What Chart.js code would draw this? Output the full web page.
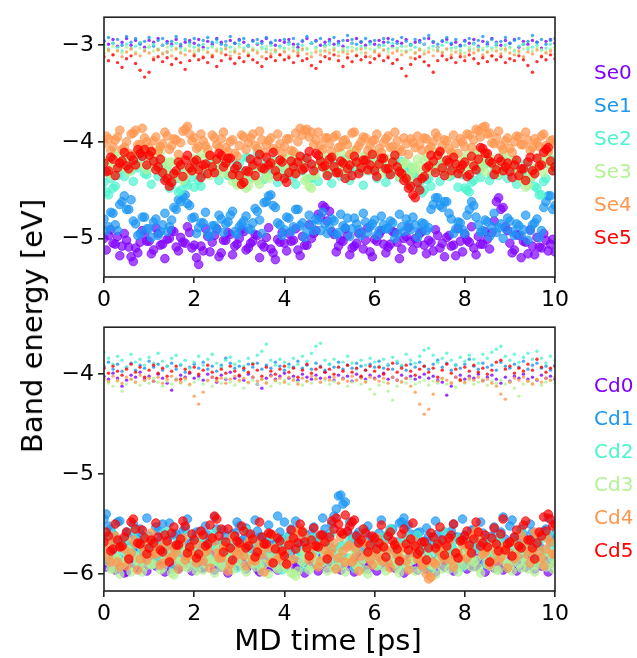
<!DOCTYPE html>
<html>
<head>
<meta charset="utf-8">
<script src="https://cdn.jsdelivr.net/npm/chart.js@4.4.1/dist/chart.umd.min.js"></script>
<style>
  body { margin: 0; background: #fff; width: 637px; height: 658px; position: relative; overflow: hidden; font-family: "DejaVu Sans", sans-serif; }
  canvas { position: absolute; left: 0; }
  #topChart { top: 0; }
  #bottomChart { top: 310px; }
  .legend { position: absolute; left: 594px; font-size: 20px; line-height: 20px; white-space: nowrap; transform: translateY(-50%); }
  #ylab { position: absolute; left: 32px; top: 326px; font-size: 29px; white-space: nowrap; transform: translate(-50%, -50%) rotate(-90deg); }
  #xlab { position: absolute; left: 328px; top: 640px; font-size: 29px; white-space: nowrap; transform: translate(-50%, -50%); }
</style>
</head>
<body>
<canvas id="topChart" width="637" height="310"></canvas>
<canvas id="bottomChart" width="637" height="348"></canvas>
<div id="ylab">Band energy [eV]</div>
<div id="xlab">MD time [ps]</div>
<script>
// time axis, ps
const TIME = [
  0, 0.1, 0.2, 0.3, 0.4, 0.5, 0.6, 0.7, 0.8, 0.9,
  1, 1.1, 1.2, 1.3, 1.4, 1.5, 1.6, 1.7, 1.8, 1.9,
  2, 2.1, 2.2, 2.3, 2.4, 2.5, 2.6, 2.7, 2.8, 2.9,
  3, 3.1, 3.2, 3.3, 3.4, 3.5, 3.6, 3.7, 3.8, 3.9,
  4, 4.1, 4.2, 4.3, 4.4, 4.5, 4.6, 4.7, 4.8, 4.9,
  5, 5.1, 5.2, 5.3, 5.4, 5.5, 5.6, 5.7, 5.8, 5.9,
  6, 6.1, 6.2, 6.3, 6.4, 6.5, 6.6, 6.7, 6.8, 6.9,
  7, 7.1, 7.2, 7.3, 7.4, 7.5, 7.6, 7.7, 7.8, 7.9,
  8, 8.1, 8.2, 8.3, 8.4, 8.5, 8.6, 8.7, 8.8, 8.9,
  9, 9.1, 9.2, 9.3, 9.4, 9.5, 9.6, 9.7, 9.8, 9.9,
  10
];
// in-between frames (lower bands only)
const TIME_MID = [
  0.05, 0.15, 0.25, 0.35, 0.45, 0.55, 0.65, 0.75, 0.85, 0.95,
  1.05, 1.15, 1.25, 1.35, 1.45, 1.55, 1.65, 1.75, 1.85, 1.95,
  2.05, 2.15, 2.25, 2.35, 2.45, 2.55, 2.65, 2.75, 2.85, 2.95,
  3.05, 3.15, 3.25, 3.35, 3.45, 3.55, 3.65, 3.75, 3.85, 3.95,
  4.05, 4.15, 4.25, 4.35, 4.45, 4.55, 4.65, 4.75, 4.85, 4.95,
  5.05, 5.15, 5.25, 5.35, 5.45, 5.55, 5.65, 5.75, 5.85, 5.95,
  6.05, 6.15, 6.25, 6.35, 6.45, 6.55, 6.65, 6.75, 6.85, 6.95,
  7.05, 7.15, 7.25, 7.35, 7.45, 7.55, 7.65, 7.75, 7.85, 7.95,
  8.05, 8.15, 8.25, 8.35, 8.45, 8.55, 8.65, 8.75, 8.85, 8.95,
  9.05, 9.15, 9.25, 9.35, 9.45, 9.55, 9.65, 9.75, 9.85, 9.95
];

const SE_NAMES = ['Se0', 'Se1', 'Se2', 'Se3', 'Se4', 'Se5'];
const CD_NAMES = ['Cd0', 'Cd1', 'Cd2', 'Cd3', 'Cd4', 'Cd5'];
const COLORS = ['#8000ff', '#1a96f3', '#4df3ce', '#b3f396', '#ff964f', '#ff0000'];

const X_TICKS = [0, 2, 4, 6, 8, 10];
const Y_TICKS_TOP = [-5, -4, -3];
const Y_TICKS_BOTTOM = [-6, -5, -4];
const Y_RANGE_TOP = [-5.40, -2.71];
const Y_RANGE_BOTTOM = [-6.17, -3.53];

// Se, lower band (large markers), frames at TIME
const SE0 = [
  -5.00,-4.97,-5.05,-4.98,-5.08,-5.02,-5.19,-5.10,-5.04,-4.96,
  -5.03,-5.12,-4.95,-5.06,-5.01,-4.92,-5.09,-4.99,-5.05,-4.94,
  -5.07,-5.27,-5.13,-4.98,-5.04,-4.90,-5.15,-5.02,-4.96,-5.08,
  -5.00,-4.93,-5.10,-5.03,-4.97,-5.06,-4.99,-5.11,-5.22,-5.04,
  -5.05,-4.95,-5.02,-5.12,-4.98,-5.07,-5.00,-4.92,-4.78,-4.68,
  -4.72,-4.96,-5.08,-5.03,-4.97,-5.10,-5.05,-4.94,-5.02,-5.14,
  -5.01,-4.96,-5.06,-5.09,-4.93,-5.04,-5.11,-4.98,-5.03,-5.00,
  -4.95,-5.07,-5.02,-5.13,-4.97,-5.05,-4.99,-5.08,-5.18,-5.03,
  -4.96,-5.04,-5.10,-4.98,-5.06,-5.01,-4.94,-4.62,-4.70,-4.88,
  -5.05,-5.12,-4.97,-5.03,-5.16,-5.08,-4.99,-5.10,-5.02,-5.06,
  -5.14
];
const SE1 = [
  -4.80,-4.88,-4.74,-4.92,-4.62,-4.70,-4.60,-4.85,-4.95,-4.78,
  -4.90,-4.83,-4.97,-4.86,-4.93,-4.81,-4.70,-4.62,-4.55,-4.66,
  -4.78,-4.89,-4.84,-4.95,-4.87,-4.91,-4.80,-4.85,-4.76,-4.93,
  -4.88,-4.82,-4.90,-4.84,-4.72,-4.95,-4.62,-4.55,-4.68,-4.86,
  -4.91,-4.79,-4.88,-4.70,-4.84,-4.93,-4.86,-4.80,-4.92,-4.85,
  -4.89,-4.82,-4.94,-4.87,-4.79,-4.90,-4.85,-4.97,-4.83,-4.88,
  -4.81,-4.92,-4.86,-4.90,-4.84,-4.95,-4.88,-4.80,-4.91,-4.86,
  -4.93,-4.85,-4.89,-4.65,-4.58,-4.68,-4.62,-4.80,-4.90,-4.84,
  -4.95,-4.70,-4.66,-4.86,-4.92,-4.83,-4.88,-4.94,-4.85,-4.90,
  -4.82,-4.97,-4.87,-4.91,-5.02,-4.86,-4.80,-4.92,-4.62,-4.56,
  -4.66
];
const SE2 = [
  -4.42,-4.55,-4.48,-4.35,-4.28,-4.22,-4.30,-4.25,-4.19,-4.33,
  -4.27,-4.21,-4.36,-4.24,-4.30,-4.45,-4.38,-4.50,-4.42,-4.29,
  -4.47,-4.40,-4.33,-4.26,-4.18,-4.31,-4.24,-4.20,-4.35,-4.28,
  -4.22,-4.30,-4.17,-4.26,-4.12,-4.29,-4.21,-4.34,-4.25,-4.19,
  -4.32,-4.27,-4.36,-4.24,-4.30,-4.22,-4.38,-4.28,-4.20,-4.26,
  -4.33,-4.25,-4.29,-4.21,-4.35,-4.27,-4.18,-4.31,-4.24,-4.30,
  -4.28,-4.22,-4.26,-4.34,-4.30,-4.25,-4.20,-4.32,-4.27,-4.36,
  -4.42,-4.50,-4.38,-4.29,-4.24,-4.31,-4.28,-4.35,-4.26,-4.33,
  -4.48,-4.52,-4.40,-4.30,-4.25,-4.22,-4.34,-4.28,-4.31,-4.26,
  -4.29,-4.24,-4.36,-4.30,-4.27,-4.33,-4.48,-4.55,-4.38,-4.18,
  -4.25
];
const SE3 = [
  -4.30,-4.20,-4.26,-4.15,-4.22,-4.18,-4.28,-4.12,-4.10,-4.24,
  -4.16,-4.23,-4.08,-4.19,-4.27,-4.21,-4.32,-4.25,-4.35,-4.30,
  -4.22,-4.18,-4.26,-4.14,-4.29,-4.20,-4.33,-4.24,-4.17,-4.38,
  -4.42,-4.35,-4.46,-4.30,-4.40,-4.28,-4.36,-4.22,-4.31,-4.25,
  -4.18,-4.27,-4.21,-4.14,-4.26,-4.38,-4.48,-4.35,-4.24,-4.19,
  -4.22,-4.15,-4.28,-4.20,-4.25,-4.12,-4.19,-4.24,-4.16,-4.21,
  -4.14,-4.23,-4.18,-4.27,-4.20,-4.26,-4.30,-4.22,-4.34,-4.28,
  -4.25,-4.19,-4.31,-4.23,-4.17,-4.26,-4.21,-4.15,-4.28,-4.22,
  -4.18,-4.24,-4.20,-4.13,-4.26,-4.19,-4.23,-4.29,-4.21,-4.17,
  -4.25,-4.20,-4.32,-4.40,-4.45,-4.36,-4.27,-4.22,-4.18,-4.24,
  -4.20
];
const SE4 = [
  -4.02,-3.97,-4.05,-3.95,-4.08,-4.00,-3.92,-3.88,-4.03,-3.96,
  -4.06,-3.99,-4.10,-4.02,-3.94,-4.04,-3.98,-4.01,-3.87,-3.92,
  -3.96,-4.05,-3.99,-4.08,-3.93,-4.03,-3.97,-4.06,-4.00,-4.12,
  -4.04,-3.95,-4.01,-3.92,-4.07,-3.98,-4.03,-3.96,-4.09,-4.02,
  -4.05,-3.97,-4.10,-4.00,-3.93,-3.87,-3.90,-3.98,-4.04,-3.96,
  -4.02,-3.95,-4.06,-3.99,-4.03,-3.91,-4.08,-4.00,-3.96,-4.04,
  -3.98,-4.07,-4.01,-3.94,-4.05,-3.99,-4.10,-4.02,-3.97,-4.06,
  -4.03,-3.96,-4.08,-4.00,-3.95,-4.04,-3.99,-4.11,-4.02,-3.97,
  -4.05,-3.93,-3.98,-3.89,-3.85,-3.92,-4.01,-3.96,-4.04,-3.99,
  -4.07,-4.00,-3.95,-4.03,-3.98,-4.06,-4.01,-3.94,-4.04,-3.99,
  -4.02
];
const SE5 = [
  -4.22,-4.30,-4.18,-4.27,-4.20,-4.25,-4.15,-4.24,-4.12,-4.08,
  -4.14,-4.20,-4.26,-4.32,-4.38,-4.42,-4.30,-4.24,-4.19,-4.27,
  -4.21,-4.29,-4.24,-4.33,-4.26,-4.18,-4.14,-4.22,-4.17,-4.28,
  -4.35,-4.42,-4.31,-4.24,-4.20,-4.27,-4.16,-4.22,-4.30,-4.19,
  -4.38,-4.32,-4.26,-4.21,-4.29,-4.17,-4.23,-4.12,-4.20,-4.25,
  -4.18,-4.26,-4.32,-4.22,-4.28,-4.35,-4.21,-4.27,-4.19,-4.24,
  -4.30,-4.23,-4.17,-4.28,-4.21,-4.26,-4.33,-4.38,-4.46,-4.58,
  -4.50,-4.36,-4.25,-4.20,-4.14,-4.27,-4.19,-4.30,-4.23,-4.28,
  -4.21,-4.34,-4.25,-4.18,-4.07,-4.12,-4.22,-4.29,-4.20,-4.26,
  -4.31,-4.24,-4.35,-4.28,-4.21,-4.30,-4.17,-4.24,-4.08,-4.20,
  -4.26
];

// Se, lower band, frames at TIME_MID
const SE0_MID = [
  -5.12,-4.91,-5.06,-5.18,-4.95,-5.09,-5.24,-5.15,-4.92,-5.03,
  -5.16,-4.89,-5.07,-5.21,-5.00,-4.93,-5.13,-5.04,-4.88,-5.10,
  -5.20,-5.08,-4.90,-5.14,-4.97,-5.19,-5.02,-4.94,-5.17,-5.06,
  -4.91,-5.12,-5.05,-4.96,-5.20,-5.09,-4.89,-5.15,-5.01,-4.94,
  -5.13,-5.03,-4.90,-5.18,-5.07,-4.86,-4.95,-4.75,-4.66,-4.82,
  -4.93,-5.14,-5.02,-4.90,-5.17,-5.08,-4.95,-5.11,-4.89,-5.19,
  -5.03,-4.92,-5.15,-5.06,-4.94,-5.21,-5.00,-4.89,-5.12,-5.05,
  -4.93,-5.16,-5.04,-4.91,-5.10,-5.19,-4.97,-5.07,-4.90,-5.14,
  -5.02,-4.88,-5.17,-5.06,-4.93,-5.11,-4.82,-4.58,-4.68,-4.92,
  -5.15,-4.96,-5.20,-5.04,-4.91,-5.17,-5.09,-4.95,-5.13,-5.01
];
const SE1_MID = [
  -4.92,-4.73,-4.86,-4.65,-4.56,-4.70,-4.82,-4.97,-4.78,-4.90,
  -4.99,-4.80,-4.93,-4.74,-4.88,-4.68,-4.60,-4.57,-4.64,-4.79,
  -4.95,-4.84,-4.73,-4.98,-4.87,-4.76,-4.94,-4.83,-4.72,-4.96,
  -4.85,-4.77,-4.91,-4.69,-4.81,-4.63,-4.56,-4.66,-4.84,-4.97,
  -4.78,-4.93,-4.70,-4.87,-4.99,-4.76,-4.92,-4.81,-4.73,-4.95,
  -4.80,-4.96,-4.75,-4.89,-4.98,-4.79,-4.91,-4.74,-4.94,-4.85,
  -4.97,-4.77,-4.90,-4.82,-5.00,-4.75,-4.93,-4.86,-4.78,-4.99,
  -4.84,-4.92,-4.70,-4.58,-4.66,-4.62,-4.74,-4.95,-4.83,-4.91,
  -4.76,-4.62,-4.78,-4.94,-4.81,-4.98,-4.74,-4.89,-5.00,-4.79,
  -4.93,-4.85,-4.97,-4.76,-4.92,-4.84,-4.99,-4.68,-4.56,-4.70
];
const SE2_MID = [
  -4.52,-4.38,-4.46,-4.24,-4.36,-4.18,-4.41,-4.27,-4.15,-4.34,
  -4.44,-4.20,-4.30,-4.38,-4.48,-4.35,-4.52,-4.28,-4.45,-4.37,
  -4.25,-4.46,-4.33,-4.17,-4.29,-4.40,-4.22,-4.35,-4.19,-4.42,
  -4.31,-4.16,-4.37,-4.24,-4.14,-4.39,-4.28,-4.20,-4.42,-4.26,
  -4.35,-4.21,-4.44,-4.30,-4.17,-4.38,-4.25,-4.41,-4.19,-4.33,
  -4.43,-4.23,-4.36,-4.18,-4.40,-4.29,-4.22,-4.45,-4.27,-4.16,
  -4.38,-4.24,-4.42,-4.31,-4.19,-4.37,-4.26,-4.44,-4.33,-4.48,
  -4.53,-4.39,-4.46,-4.25,-4.41,-4.20,-4.36,-4.29,-4.47,-4.34,
  -4.50,-4.42,-4.28,-4.37,-4.21,-4.40,-4.26,-4.35,-4.19,-4.38,
  -4.27,-4.44,-4.32,-4.22,-4.39,-4.46,-4.55,-4.41,-4.23,-4.30
];
const SE3_MID = [
  -4.20,-4.34,-4.12,-4.27,-4.18,-4.31,-4.14,-4.24,-4.09,-4.29,
  -4.16,-4.26,-4.11,-4.33,-4.21,-4.37,-4.19,-4.40,-4.28,-4.17,
  -4.31,-4.13,-4.26,-4.35,-4.19,-4.28,-4.15,-4.33,-4.41,-4.45,
  -4.36,-4.48,-4.39,-4.27,-4.44,-4.30,-4.38,-4.21,-4.34,-4.18,
  -4.29,-4.14,-4.33,-4.22,-4.40,-4.46,-4.35,-4.24,-4.13,-4.30,
  -4.16,-4.27,-4.11,-4.32,-4.20,-4.09,-4.26,-4.15,-4.30,-4.12,
  -4.24,-4.33,-4.17,-4.28,-4.14,-4.36,-4.22,-4.39,-4.26,-4.18,
  -4.32,-4.15,-4.27,-4.11,-4.29,-4.20,-4.34,-4.13,-4.24,-4.30,
  -4.14,-4.27,-4.10,-4.22,-4.31,-4.16,-4.26,-4.33,-4.12,-4.25,
  -4.19,-4.30,-4.38,-4.47,-4.35,-4.28,-4.16,-4.32,-4.13,-4.27
];
const SE4_MID = [
  -3.94,-4.09,-3.98,-3.88,-4.06,-4.12,-3.91,-4.03,-3.86,-4.00,
  -4.11,-3.95,-4.05,-3.90,-4.08,-3.97,-4.13,-3.89,-3.84,-3.99,
  -4.07,-3.92,-4.04,-4.14,-3.96,-4.06,-3.90,-4.10,-3.98,-4.15,
  -3.93,-4.08,-3.96,-4.04,-3.89,-4.11,-3.99,-4.07,-3.92,-4.12,
  -3.97,-4.09,-3.91,-3.86,-3.88,-3.95,-4.03,-3.90,-4.08,-3.96,
  -4.10,-3.93,-4.05,-3.98,-4.13,-3.90,-4.04,-3.95,-4.09,-3.99,
  -3.92,-4.11,-3.97,-4.06,-3.90,-4.08,-3.96,-4.13,-4.01,-3.94,
  -4.09,-3.97,-4.05,-3.91,-4.10,-3.98,-4.07,-3.93,-4.12,-4.00,
  -3.92,-4.06,-3.87,-3.95,-3.84,-3.91,-4.02,-3.89,-4.08,-3.96,
  -4.11,-3.94,-4.03,-3.90,-4.09,-3.97,-4.05,-3.92,-4.10,-3.98
];
const SE5_MID = [
  -4.31,-4.16,-4.35,-4.22,-4.11,-4.28,-4.19,-4.08,-4.15,-4.24,
  -4.10,-4.29,-4.18,-4.40,-4.46,-4.33,-4.21,-4.36,-4.14,-4.30,
  -4.19,-4.37,-4.23,-4.14,-4.32,-4.12,-4.26,-4.17,-4.34,-4.25,
  -4.44,-4.30,-4.18,-4.35,-4.13,-4.28,-4.24,-4.11,-4.36,-4.21,
  -4.42,-4.20,-4.33,-4.15,-4.27,-4.10,-4.30,-4.14,-4.26,-4.35,
  -4.16,-4.32,-4.20,-4.38,-4.24,-4.15,-4.33,-4.19,-4.29,-4.13,
  -4.36,-4.17,-4.28,-4.34,-4.14,-4.31,-4.40,-4.48,-4.55,-4.42,
  -4.38,-4.27,-4.14,-4.32,-4.10,-4.35,-4.21,-4.16,-4.33,-4.24,
  -4.36,-4.15,-4.29,-4.06,-4.12,-4.20,-4.34,-4.17,-4.30,-4.22,
  -4.37,-4.19,-4.28,-4.40,-4.16,-4.33,-4.25,-4.11,-4.06,-4.30
];

// Se, upper band (small dots), frames at TIME
const SE0_UP = [
  -2.96,-2.99,-2.94,-3.01,-2.97,-2.93,-3.00,-2.95,-2.98,-3.02,
  -2.95,-2.97,-2.93,-3.00,-2.96,-2.99,-2.94,-3.01,-2.97,-2.95,
  -2.98,-2.94,-3.02,-2.96,-2.99,-2.93,-2.97,-3.00,-2.95,-2.98,
  -2.94,-2.97,-3.01,-2.95,-2.99,-2.96,-2.93,-2.98,-3.00,-2.95,
  -2.97,-2.94,-2.99,-3.02,-2.96,-2.93,-2.98,-2.95,-3.00,-2.97,
  -2.94,-2.99,-2.96,-3.01,-2.95,-2.98,-2.93,-2.97,-3.00,-2.96,
  -2.99,-2.95,-2.97,-2.93,-3.01,-2.96,-2.98,-2.94,-3.00,-2.97,
  -2.95,-2.99,-2.93,-2.97,-3.02,-2.96,-2.94,-2.99,-2.97,-3.00,
  -2.95,-2.98,-2.94,-3.01,-2.96,-2.99,-2.93,-2.97,-3.00,-2.95,
  -2.98,-2.94,-3.02,-2.96,-2.99,-2.95,-2.97,-3.03,-2.96,-2.94,
  -2.98
];
const SE1_UP = [
  -2.95,-2.92,-2.98,-2.94,-3.00,-2.91,-2.97,-2.93,-2.99,-2.96,
  -2.92,-3.01,-2.95,-2.93,-2.98,-2.96,-2.91,-2.99,-2.94,-2.97,
  -2.93,-3.00,-2.95,-2.92,-2.97,-2.94,-2.99,-2.96,-2.91,-2.98,
  -2.95,-2.93,-3.00,-2.96,-2.94,-2.98,-2.92,-2.97,-2.95,-3.01,
  -2.94,-2.97,-2.93,-2.99,-2.95,-2.91,-2.98,-2.96,-2.93,-3.00,
  -2.96,-2.92,-2.98,-2.95,-2.90,-2.94,-2.99,-2.96,-2.93,-2.97,
  -2.95,-3.00,-2.93,-2.97,-2.94,-2.98,-2.92,-2.96,-2.99,-2.94,
  -2.97,-2.93,-2.90,-2.96,-2.99,-2.95,-2.92,-2.98,-2.94,-3.01,
  -2.96,-2.93,-2.98,-2.95,-2.91,-2.97,-2.94,-3.00,-2.96,-2.92,
  -2.98,-2.95,-2.93,-2.99,-2.96,-2.90,-2.97,-2.94,-2.99,-2.95,
  -2.93
];
const SE2_UP = [
  -3.00,-3.04,-2.98,-3.02,-3.06,-2.99,-3.03,-3.01,-2.97,-3.05,
  -3.02,-2.99,-3.04,-3.00,-3.07,-3.01,-2.98,-3.03,-3.05,-3.00,
  -3.02,-3.06,-2.99,-3.03,-3.01,-2.97,-3.04,-3.00,-3.02,-3.06,
  -2.99,-3.03,-3.01,-3.05,-2.98,-3.02,-3.04,-3.00,-3.07,-3.01,
  -3.03,-2.99,-3.02,-3.05,-3.00,-3.04,-2.98,-3.02,-3.06,-3.01,
  -2.99,-3.03,-3.00,-3.05,-3.02,-2.98,-3.04,-3.01,-3.03,-2.99,
  -3.05,-3.02,-3.00,-3.04,-2.98,-3.03,-3.01,-3.06,-3.00,-3.02,
  -3.04,-2.99,-3.03,-3.01,-3.05,-3.00,-2.97,-3.03,-3.02,-3.06,
  -3.00,-3.04,-2.99,-3.02,-3.05,-3.01,-3.03,-2.98,-3.04,-3.00,
  -3.02,-3.06,-3.01,-2.99,-3.04,-3.02,-3.00,-3.05,-3.03,-2.99,
  -3.02
];
const SE3_UP = [
  -3.03,-3.06,-3.01,-3.05,-3.08,-3.02,-3.04,-3.07,-3.03,-3.05,
  -3.01,-3.06,-3.04,-3.08,-3.02,-3.05,-3.03,-3.07,-3.04,-3.01,
  -3.06,-3.03,-3.05,-3.08,-3.02,-3.04,-3.06,-3.03,-3.07,-3.04,
  -3.02,-3.05,-3.08,-3.03,-3.06,-3.04,-3.01,-3.05,-3.07,-3.03,
  -3.06,-3.04,-3.02,-3.07,-3.05,-3.03,-3.08,-3.04,-3.06,-3.02,
  -3.05,-3.03,-3.07,-3.04,-3.06,-3.02,-3.05,-3.08,-3.03,-3.04,
  -3.06,-3.02,-3.05,-3.07,-3.03,-3.04,-3.06,-3.01,-3.05,-3.08,
  -3.04,-3.06,-3.03,-3.05,-3.02,-3.07,-3.04,-3.06,-3.03,-3.05,
  -3.08,-3.02,-3.04,-3.06,-3.03,-3.07,-3.05,-3.02,-3.04,-3.06,
  -3.03,-3.05,-3.08,-3.04,-3.02,-3.06,-3.03,-3.05,-3.07,-3.04,
  -3.05
];
const SE4_UP = [
  -3.08,-3.05,-3.10,-3.06,-3.12,-3.07,-3.04,-3.09,-3.11,-3.06,
  -3.08,-3.13,-3.05,-3.09,-3.07,-3.11,-3.04,-3.08,-3.10,-3.06,
  -3.09,-3.05,-3.12,-3.07,-3.10,-3.06,-3.08,-3.04,-3.11,-3.07,
  -3.09,-3.06,-3.10,-3.05,-3.08,-3.12,-3.07,-3.09,-3.05,-3.10,
  -3.07,-3.11,-3.06,-3.08,-3.04,-3.09,-3.12,-3.07,-3.10,-3.06,
  -3.08,-3.05,-3.11,-3.07,-3.09,-3.06,-3.10,-3.04,-3.08,-3.12,
  -3.07,-3.09,-3.05,-3.11,-3.08,-3.06,-3.10,-3.07,-3.13,-3.08,
  -3.05,-3.09,-3.07,-3.11,-3.06,-3.08,-3.04,-3.10,-3.07,-3.09,
  -3.12,-3.06,-3.08,-3.05,-3.10,-3.07,-3.11,-3.06,-3.09,-3.04,
  -3.08,-3.10,-3.06,-3.12,-3.07,-3.09,-3.05,-3.11,-3.08,-3.06,
  -3.09
];
const SE5_UP = [
  -3.12,-3.16,-3.10,-3.18,-3.23,-3.14,-3.11,-3.19,-3.26,-3.33,
  -3.28,-3.15,-3.12,-3.17,-3.13,-3.20,-3.14,-3.18,-3.25,-3.16,
  -3.11,-3.15,-3.13,-3.18,-3.12,-3.22,-3.16,-3.10,-3.14,-3.19,
  -3.13,-3.17,-3.11,-3.15,-3.18,-3.22,-3.14,-3.12,-3.16,-3.10,
  -3.15,-3.13,-3.18,-3.11,-3.16,-3.14,-3.21,-3.24,-3.17,-3.12,
  -3.14,-3.10,-3.16,-3.22,-3.13,-3.17,-3.11,-3.15,-3.12,-3.18,
  -3.14,-3.11,-3.16,-3.13,-3.19,-3.15,-3.24,-3.32,-3.20,-3.14,
  -3.12,-3.17,-3.21,-3.28,-3.16,-3.11,-3.15,-3.13,-3.18,-3.12,
  -3.16,-3.10,-3.14,-3.19,-3.13,-3.17,-3.11,-3.15,-3.12,-3.18,
  -3.14,-3.16,-3.11,-3.15,-3.21,-3.28,-3.17,-3.12,-3.15,-3.10,
  -3.14
];

// Cd, lower band (large markers), frames at TIME
const CD0 = [
  -5.86,-5.90,-5.82,-5.95,-5.88,-5.98,-5.84,-5.91,-5.87,-5.93,
  -5.85,-5.89,-5.80,-5.92,-5.86,-5.95,-5.83,-5.88,-5.90,-5.85,
  -5.91,-5.86,-5.94,-5.82,-5.89,-5.87,-5.93,-5.84,-5.90,-5.86,
  -5.88,-5.83,-5.92,-5.87,-5.95,-5.85,-5.89,-5.93,-5.81,-5.88,
  -5.90,-5.84,-5.87,-5.92,-5.86,-5.89,-5.83,-5.91,-5.88,-5.85,
  -5.87,-5.92,-5.84,-5.89,-5.86,-5.90,-5.82,-5.88,-5.94,-5.86,
  -5.89,-5.85,-5.91,-5.87,-5.93,-5.84,-5.88,-5.86,-5.90,-5.83,
  -5.88,-5.92,-5.85,-5.89,-5.86,-5.91,-5.84,-5.87,-5.90,-5.85,
  -5.89,-5.86,-5.92,-5.84,-5.88,-5.91,-5.87,-5.85,-5.90,-5.93,
  -5.86,-5.89,-5.84,-5.91,-5.87,-5.88,-5.85,-5.92,-5.86,-5.89,
  -5.87
];
const CD1 = [
  -5.45,-5.52,-5.60,-5.48,-5.66,-5.58,-5.72,-5.63,-5.55,-5.70,
  -5.62,-5.68,-5.57,-5.50,-5.65,-5.73,-5.60,-5.67,-5.54,-5.69,
  -5.64,-5.58,-5.71,-5.61,-5.66,-5.55,-5.68,-5.62,-5.74,-5.59,
  -5.52,-5.65,-5.60,-5.70,-5.57,-5.63,-5.68,-5.61,-5.66,-5.58,
  -5.48,-5.62,-5.69,-5.56,-5.64,-5.71,-5.59,-5.66,-5.62,-5.55,
  -5.60,-5.42,-5.22,-5.30,-5.58,-5.65,-5.61,-5.68,-5.57,-5.63,
  -5.70,-5.59,-5.66,-5.62,-5.55,-5.68,-5.48,-5.52,-5.60,-5.64,
  -5.58,-5.67,-5.62,-5.71,-5.60,-5.65,-5.69,-5.57,-5.63,-5.66,
  -5.61,-5.68,-5.56,-5.64,-5.59,-5.67,-5.62,-5.70,-5.58,-5.65,
  -5.52,-5.63,-5.69,-5.60,-5.66,-5.58,-5.72,-5.62,-5.55,-5.64,
  -5.60
];
const CD2 = [
  -5.72,-5.78,-5.60,-5.75,-5.82,-5.70,-5.77,-5.66,-5.80,-5.73,
  -5.68,-5.76,-5.84,-5.71,-5.58,-5.74,-5.79,-5.69,-5.76,-5.82,
  -5.73,-5.67,-5.78,-5.71,-5.85,-5.75,-5.69,-5.80,-5.72,-5.76,
  -5.70,-5.79,-5.74,-5.66,-5.81,-5.73,-5.77,-5.62,-5.75,-5.83,
  -5.71,-5.78,-5.68,-5.76,-5.80,-5.72,-5.65,-5.77,-5.74,-5.82,
  -5.69,-5.75,-5.79,-5.71,-5.84,-5.73,-5.77,-5.66,-5.80,-5.74,
  -5.72,-5.78,-5.68,-5.60,-5.75,-5.81,-5.70,-5.62,-5.76,-5.73,
  -5.79,-5.71,-5.77,-5.84,-5.74,-5.69,-5.78,-5.72,-5.66,-5.80,
  -5.73,-5.76,-5.70,-5.63,-5.78,-5.72,-5.81,-5.75,-5.69,-5.77,
  -5.74,-5.80,-5.71,-5.76,-5.68,-5.79,-5.73,-5.65,-5.77,-5.72,
  -5.70
];
const CD3 = [
  -5.80,-5.88,-5.95,-5.84,-5.91,-5.86,-5.98,-5.82,-5.89,-5.93,
  -5.85,-5.90,-5.78,-5.94,-5.87,-5.99,-5.83,-5.88,-5.92,-5.86,
  -5.90,-5.84,-5.96,-5.81,-5.89,-5.87,-5.93,-5.85,-5.91,-5.79,
  -5.88,-5.94,-5.83,-5.90,-5.86,-5.97,-5.84,-5.89,-5.92,-5.85,
  -5.91,-5.87,-6.00,-5.97,-5.88,-5.84,-5.93,-5.86,-5.90,-5.82,
  -5.89,-5.95,-5.85,-5.91,-5.87,-5.83,-5.92,-5.88,-5.96,-5.84,
  -5.90,-5.86,-5.93,-5.81,-5.89,-5.94,-5.85,-5.91,-5.87,-5.97,
  -5.84,-5.90,-5.86,-5.92,-5.88,-5.95,-5.83,-5.89,-5.93,-5.86,
  -5.91,-5.85,-5.88,-5.94,-5.82,-5.90,-5.87,-5.96,-5.84,-5.89,
  -5.92,-5.86,-5.90,-5.83,-5.95,-5.88,-5.91,-5.85,-5.93,-5.87,
  -5.90
];
const CD4 = [
  -5.75,-5.82,-5.68,-5.88,-5.73,-5.92,-5.79,-5.70,-5.85,-5.77,
  -5.66,-5.80,-5.74,-5.89,-5.72,-5.83,-5.78,-5.68,-5.86,-5.76,
  -5.81,-5.71,-5.87,-5.75,-5.64,-5.79,-5.84,-5.72,-5.90,-5.77,
  -5.73,-5.82,-5.69,-5.86,-5.76,-5.80,-5.71,-5.88,-5.74,-5.83,
  -5.78,-5.70,-5.85,-5.62,-5.57,-5.75,-5.81,-5.72,-5.87,-5.76,
  -5.80,-5.69,-5.84,-5.77,-5.73,-5.88,-5.75,-5.82,-5.70,-5.86,
  -5.78,-5.83,-5.71,-5.89,-5.76,-5.81,-5.74,-5.87,-5.79,-5.72,
  -5.85,-5.90,-6.05,-5.88,-5.77,-5.82,-5.73,-5.86,-5.79,-5.84,
  -5.70,-5.76,-5.61,-5.58,-5.80,-5.74,-5.87,-5.78,-5.83,-5.72,
  -5.79,-5.85,-5.73,-5.66,-5.81,-5.77,-5.60,-5.84,-5.75,-5.68,
  -5.80
];
const CD5 = [
  -5.68,-5.62,-5.75,-5.66,-5.72,-5.58,-5.48,-5.55,-5.70,-5.64,
  -5.74,-5.69,-5.63,-5.78,-5.67,-5.59,-5.71,-5.65,-5.52,-5.73,
  -5.66,-5.80,-5.61,-5.70,-5.64,-5.45,-5.55,-5.68,-5.74,-5.62,
  -5.69,-5.57,-5.72,-5.65,-5.78,-5.63,-5.70,-5.60,-5.75,-5.67,
  -5.82,-5.71,-5.64,-5.69,-5.58,-5.74,-5.66,-5.72,-5.61,-5.68,
  -5.63,-5.55,-5.50,-5.60,-5.57,-5.48,-5.62,-5.66,-5.59,-5.71,
  -5.64,-5.69,-5.73,-5.62,-5.67,-5.75,-5.60,-5.70,-5.65,-5.72,
  -5.77,-5.68,-5.74,-5.63,-5.70,-5.66,-5.72,-5.61,-5.79,-5.67,
  -5.62,-5.71,-5.65,-5.58,-5.69,-5.73,-5.64,-5.70,-5.60,-5.76,
  -5.68,-5.63,-5.72,-5.51,-5.66,-5.74,-5.69,-5.62,-5.57,-5.45,
  -5.50
];

// Cd, lower band, frames at TIME_MID
const CD0_MID = [
  -5.93,-5.80,-5.96,-5.85,-5.99,-5.90,-5.78,-5.94,-5.84,-5.97,
  -5.81,-5.92,-5.86,-5.98,-5.79,-5.91,-5.95,-5.83,-5.88,-5.97,
  -5.82,-5.94,-5.87,-5.80,-5.96,-5.89,-5.84,-5.99,-5.86,-5.92,
  -5.79,-5.95,-5.85,-5.91,-5.98,-5.83,-5.93,-5.81,-5.96,-5.87,
  -5.92,-5.78,-5.95,-5.86,-5.99,-5.84,-5.90,-5.97,-5.82,-5.94,
  -5.80,-5.91,-5.96,-5.85,-5.93,-5.98,-5.83,-5.89,-5.95,-5.81,
  -5.97,-5.86,-5.92,-5.79,-5.94,-5.88,-5.99,-5.84,-5.91,-5.96,
  -5.82,-5.95,-5.87,-5.98,-5.80,-5.93,-5.86,-5.97,-5.83,-5.90,
  -5.95,-5.81,-5.92,-5.88,-5.98,-5.85,-5.94,-5.79,-5.96,-5.89,
  -5.83,-5.97,-5.86,-5.93,-5.80,-5.95,-5.90,-5.84,-5.98,-5.87
];
const CD1_MID = [
  -5.40,-5.55,-5.68,-5.47,-5.73,-5.59,-5.50,-5.78,-5.62,-5.44,
  -5.70,-5.53,-5.66,-5.76,-5.49,-5.61,-5.74,-5.57,-5.45,-5.69,
  -5.58,-5.77,-5.52,-5.64,-5.43,-5.71,-5.56,-5.80,-5.60,-5.48,
  -5.67,-5.54,-5.75,-5.46,-5.63,-5.72,-5.51,-5.68,-5.42,-5.65,
  -5.74,-5.55,-5.47,-5.70,-5.60,-5.79,-5.53,-5.66,-5.44,-5.72,
  -5.50,-5.35,-5.21,-5.28,-5.48,-5.70,-5.58,-5.76,-5.52,-5.65,
  -5.73,-5.46,-5.62,-5.55,-5.77,-5.49,-5.44,-5.51,-5.68,-5.59,
  -5.75,-5.54,-5.66,-5.47,-5.71,-5.58,-5.79,-5.50,-5.63,-5.45,
  -5.69,-5.56,-5.74,-5.48,-5.65,-5.77,-5.53,-5.60,-5.43,-5.70,
  -5.46,-5.67,-5.55,-5.78,-5.50,-5.63,-5.72,-5.57,-5.44,-5.68
];
const CD2_MID = [
  -5.62,-5.85,-5.70,-5.93,-5.66,-5.80,-5.57,-5.88,-5.74,-5.64,
  -5.90,-5.71,-5.83,-5.59,-5.77,-5.95,-5.67,-5.86,-5.61,-5.79,
  -5.92,-5.65,-5.81,-5.73,-5.58,-5.89,-5.69,-5.84,-5.63,-5.94,
  -5.72,-5.56,-5.87,-5.68,-5.91,-5.76,-5.60,-5.82,-5.71,-5.96,
  -5.64,-5.85,-5.58,-5.79,-5.93,-5.67,-5.83,-5.62,-5.88,-5.74,
  -5.59,-5.90,-5.72,-5.85,-5.65,-5.94,-5.70,-5.57,-5.81,-5.76,
  -5.91,-5.63,-5.86,-5.55,-5.78,-5.69,-5.92,-5.66,-5.84,-5.61,
  -5.87,-5.73,-5.95,-5.68,-5.80,-5.58,-5.89,-5.75,-5.64,-5.93,
  -5.70,-5.83,-5.59,-5.77,-5.90,-5.66,-5.86,-5.62,-5.79,-5.94,
  -5.68,-5.82,-5.57,-5.88,-5.72,-5.91,-5.64,-5.80,-5.60,-5.85
];
const CD3_MID = [
  -5.78,-5.95,-5.84,-6.00,-5.89,-5.76,-5.93,-5.86,-5.98,-5.81,
  -5.91,-5.74,-5.96,-5.85,-5.80,-6.01,-5.88,-5.77,-5.94,-5.83,
  -5.97,-5.79,-5.90,-5.86,-5.99,-5.75,-5.92,-5.82,-5.96,-5.87,
  -5.80,-5.98,-5.84,-5.93,-5.77,-5.90,-6.00,-5.83,-5.95,-5.79,
  -5.94,-5.99,-6.02,-5.86,-5.78,-5.96,-5.84,-5.91,-5.76,-5.97,
  -5.82,-5.93,-5.79,-5.98,-5.87,-5.75,-5.95,-5.85,-6.00,-5.81,
  -5.92,-5.78,-5.97,-5.84,-5.90,-5.99,-5.80,-5.94,-5.86,-5.77,
  -5.96,-5.83,-5.91,-6.01,-5.85,-5.79,-5.95,-5.88,-5.98,-5.82,
  -5.76,-5.93,-5.86,-5.99,-5.81,-5.92,-5.78,-5.96,-5.85,-5.90,
  -5.97,-5.80,-5.94,-5.87,-5.77,-5.98,-5.84,-5.91,-5.79,-5.95
];
const CD4_MID = [
  -5.70,-5.88,-5.62,-5.93,-5.75,-5.83,-5.66,-5.96,-5.72,-5.86,
  -5.59,-5.80,-5.91,-5.68,-5.85,-5.74,-5.95,-5.64,-5.82,-5.71,
  -5.89,-5.60,-5.78,-5.94,-5.67,-5.84,-5.73,-5.97,-5.63,-5.81,
  -5.76,-5.92,-5.65,-5.87,-5.70,-5.98,-5.74,-5.61,-5.85,-5.79,
  -5.90,-5.66,-5.58,-5.55,-5.62,-5.86,-5.72,-5.93,-5.69,-5.82,
  -5.75,-5.95,-5.63,-5.88,-5.71,-5.84,-5.97,-5.68,-5.80,-5.91,
  -5.64,-5.87,-5.76,-5.94,-5.69,-5.83,-5.73,-5.96,-5.66,-5.85,
  -5.92,-6.00,-6.03,-5.90,-5.74,-5.86,-5.67,-5.93,-5.79,-5.71,
  -5.84,-5.62,-5.56,-5.65,-5.78,-5.91,-5.70,-5.87,-5.76,-5.94,
  -5.68,-5.82,-5.61,-5.74,-5.89,-5.58,-5.77,-5.92,-5.65,-5.80
];
const CD5_MID = [
  -5.58,-5.77,-5.50,-5.73,-5.63,-5.85,-5.45,-5.69,-5.56,-5.80,
  -5.66,-5.49,-5.76,-5.61,-5.88,-5.53,-5.71,-5.47,-5.79,-5.60,
  -5.84,-5.57,-5.72,-5.51,-5.42,-5.62,-5.78,-5.55,-5.86,-5.67,
  -5.52,-5.74,-5.60,-5.83,-5.48,-5.70,-5.59,-5.89,-5.64,-5.77,
  -5.90,-5.56,-5.75,-5.50,-5.68,-5.82,-5.54,-5.73,-5.61,-5.85,
  -5.47,-5.44,-5.58,-5.41,-5.52,-5.46,-5.69,-5.55,-5.78,-5.62,
  -5.75,-5.51,-5.83,-5.58,-5.71,-5.87,-5.55,-5.76,-5.49,-5.80,
  -5.68,-5.86,-5.59,-5.74,-5.53,-5.81,-5.64,-5.50,-5.84,-5.66,
  -5.57,-5.79,-5.48,-5.72,-5.61,-5.88,-5.54,-5.77,-5.45,-5.70,
  -5.82,-5.56,-5.74,-5.47,-5.66,-5.85,-5.58,-5.43,-5.40,-5.52
];

// Cd, upper band (small dots), frames at TIME
const CD0_UP = [
  -4.02,-4.05,-3.99,-4.04,-4.12,-4.06,-4.01,-4.03,-3.98,-4.05,
  -4.02,-4.07,-4.00,-4.04,-4.09,-4.16,-4.05,-4.01,-4.03,-3.99,
  -4.04,-4.02,-4.06,-4.00,-4.03,-4.08,-4.01,-4.05,-3.98,-4.04,
  -4.02,-4.06,-4.00,-4.03,-4.10,-4.14,-4.04,-4.01,-4.05,-4.02,
  -3.99,-4.04,-4.02,-4.06,-4.00,-4.03,-4.05,-4.01,-4.04,-3.98,
  -4.03,-4.06,-4.01,-4.04,-4.02,-4.07,-4.00,-4.03,-4.05,-4.01,
  -4.04,-4.02,-3.99,-4.05,-4.03,-4.06,-4.01,-4.04,-4.02,-4.05,
  -4.03,-4.00,-4.04,-4.02,-4.06,-4.08,-4.21,-4.12,-4.03,-4.01,
  -4.05,-4.02,-4.04,-4.00,-4.06,-4.03,-4.01,-4.05,-4.09,-4.03,
  -4.07,-4.02,-4.04,-4.00,-4.05,-4.03,-4.06,-4.01,-4.04,-4.02,
  -4.05
];
const CD1_UP = [
  -3.92,-3.88,-3.95,-3.90,-3.97,-3.93,-3.89,-3.96,-3.91,-3.94,
  -3.87,-3.93,-3.90,-3.96,-3.92,-3.89,-3.95,-3.91,-3.98,-3.93,
  -3.90,-3.94,-3.88,-3.95,-3.92,-3.97,-3.91,-3.84,-3.89,-3.94,
  -3.92,-3.96,-3.90,-3.93,-3.89,-3.95,-3.91,-3.94,-3.88,-3.92,
  -3.96,-3.90,-3.93,-3.87,-3.94,-3.91,-3.95,-3.89,-3.92,-3.96,
  -3.90,-3.93,-3.88,-3.95,-3.91,-3.94,-3.89,-3.92,-3.96,-3.90,
  -3.93,-3.87,-3.94,-3.91,-3.95,-3.89,-3.92,-3.96,-3.90,-3.93,
  -3.88,-3.92,-3.95,-3.90,-3.86,-3.93,-3.89,-3.96,-3.91,-3.94,
  -3.90,-3.85,-3.92,-3.95,-3.89,-3.93,-3.91,-3.96,-3.88,-3.92,
  -3.94,-3.90,-3.93,-3.87,-3.95,-3.91,-3.89,-3.94,-3.92,-3.96,
  -3.91
];
const CD2_UP = [
  -3.78,-3.84,-3.90,-3.82,-3.86,-3.93,-3.80,-3.88,-3.85,-3.91,
  -3.83,-3.89,-3.79,-3.87,-3.92,-3.84,-3.81,-3.90,-3.86,-3.94,
  -3.88,-3.82,-3.91,-3.85,-3.80,-3.89,-3.93,-3.86,-3.83,-3.90,
  -3.87,-3.92,-3.84,-3.89,-3.81,-3.77,-3.70,-3.86,-3.91,-3.85,
  -3.88,-3.93,-3.84,-3.90,-3.82,-3.87,-3.79,-3.72,-3.69,-3.86,
  -3.90,-3.85,-3.93,-3.88,-3.82,-3.89,-3.95,-3.86,-3.91,-3.84,
  -3.88,-3.92,-3.85,-3.90,-3.83,-3.87,-3.91,-3.80,-3.86,-3.89,
  -3.82,-3.76,-3.74,-3.81,-3.88,-3.84,-3.79,-3.86,-3.90,-3.83,
  -3.87,-3.81,-3.85,-3.89,-3.80,-3.84,-3.78,-3.75,-3.72,-3.82,
  -3.86,-3.80,-3.88,-3.83,-3.79,-3.85,-3.77,-3.84,-3.89,-3.82,
  -3.86
];
const CD3_UP = [
  -4.06,-4.09,-4.12,-4.07,-4.17,-4.10,-4.05,-4.08,-4.11,-4.06,
  -4.09,-4.04,-4.08,-4.12,-4.07,-4.10,-4.05,-4.09,-4.06,-4.11,
  -4.08,-4.05,-4.10,-4.07,-4.12,-4.06,-4.09,-4.04,-4.08,-4.11,
  -4.07,-4.14,-4.09,-4.06,-4.10,-4.05,-4.08,-4.12,-4.07,-4.09,
  -4.06,-4.10,-4.05,-4.08,-4.11,-4.07,-4.09,-4.04,-4.08,-4.06,
  -4.10,-4.07,-4.09,-4.05,-4.12,-4.08,-4.06,-4.10,-4.07,-4.15,
  -4.20,-4.11,-4.08,-4.17,-4.26,-4.12,-4.07,-4.09,-4.05,-4.10,
  -4.08,-4.06,-4.11,-4.07,-4.09,-4.05,-4.10,-4.08,-4.13,-4.07,
  -4.09,-4.06,-4.10,-4.08,-4.05,-4.11,-4.07,-4.09,-4.06,-4.10,
  -4.08,-4.14,-4.22,-4.10,-4.07,-4.09,-4.05,-4.11,-4.08,-4.06,
  -4.09
];
const CD4_UP = [
  -4.04,-4.07,-4.02,-4.06,-4.09,-4.03,-4.05,-4.08,-4.01,-4.06,
  -4.04,-4.07,-4.03,-4.09,-4.05,-4.02,-4.06,-4.08,-4.04,-4.10,
  -4.22,-4.30,-4.18,-4.06,-4.03,-4.07,-4.04,-4.09,-4.05,-4.02,
  -4.06,-4.04,-4.08,-4.03,-4.07,-4.05,-4.09,-4.02,-4.06,-4.04,
  -4.08,-4.03,-4.06,-4.10,-4.04,-4.07,-4.02,-4.05,-4.08,-4.04,
  -4.06,-4.03,-4.09,-4.05,-4.07,-4.02,-4.06,-4.04,-4.08,-4.03,
  -4.05,-4.07,-4.04,-4.09,-4.03,-4.06,-4.08,-4.04,-4.12,-4.18,
  -4.30,-4.40,-4.35,-4.20,-4.07,-4.04,-4.06,-4.09,-4.03,-4.05,
  -4.08,-4.04,-4.06,-4.03,-4.07,-4.05,-4.09,-4.12,-4.20,-4.25,
  -4.08,-4.04,-4.06,-4.03,-4.07,-4.10,-4.05,-4.08,-4.04,-4.06,
  -4.03
];
const CD5_UP = [
  -3.94,-3.99,-3.92,-3.97,-4.01,-3.95,-3.90,-3.98,-3.93,-4.03,
  -3.96,-3.91,-3.99,-3.94,-4.02,-3.97,-3.92,-4.05,-3.95,-3.98,
  -3.93,-4.00,-3.96,-3.91,-3.98,-4.04,-3.95,-3.99,-3.92,-3.97,
  -4.01,-3.94,-3.98,-3.90,-3.96,-4.02,-3.93,-3.97,-4.00,-3.95,
  -3.92,-3.98,-3.94,-4.03,-3.96,-3.90,-3.99,-3.95,-3.93,-3.98,
  -3.95,-4.00,-3.93,-3.97,-3.91,-3.98,-3.94,-4.02,-3.96,-3.92,
  -3.97,-3.93,-4.00,-3.95,-3.89,-3.98,-3.94,-3.91,-3.97,-4.01,
  -3.95,-3.92,-3.98,-3.94,-4.03,-3.96,-3.90,-3.99,-3.95,-4.06,
  -3.93,-3.97,-3.91,-3.98,-3.94,-4.00,-3.96,-3.88,-3.86,-3.95,
  -3.92,-3.99,-3.94,-3.97,-3.90,-3.96,-3.85,-3.93,-3.98,-3.94,
  -3.92
];

const FONT = 'DejaVu Sans';

function rgba(hex, a) {
  const n = parseInt(hex.slice(1), 16);
  return `rgba(${(n >> 16) & 255}, ${(n >> 8) & 255}, ${n & 255}, ${a})`;
}

const toPoints = (times, vals) => times.map((t, i) => ({ x: t, y: vals[i] }));

function buildDatasets(names, lower, lowerMid, upper) {
  const sets = [];
  names.forEach((name, i) => {
    sets.push({
      label: name,
      data: toPoints(TIME, lower[i]).concat(toPoints(TIME_MID, lowerMid[i])),
      order: 5 - i,
      pointRadius: 4.3,
      borderWidth: 1,
      backgroundColor: rgba(COLORS[i], 0.7),
      borderColor: rgba(COLORS[i], 0.7)
    });
    sets.push({
      label: name + ' upper',
      data: toPoints(TIME, upper[i]),
      order: 5 - i,
      pointRadius: 1.7,
      borderWidth: 0,
      backgroundColor: rgba(COLORS[i], 0.8)
    });
  });
  return sets;
}

// full box around the plot area, like the matplotlib spines
const frame = {
  id: 'frame',
  afterDraw(chart) {
    const a = chart.chartArea, ctx = chart.ctx;
    ctx.save();
    ctx.strokeStyle = '#222';
    ctx.lineWidth = 1.6;
    ctx.strokeRect(a.left, a.top, a.right - a.left, a.bottom - a.top);
    ctx.restore();
  }
};

function makeChart(canvasId, datasets, yRange, yTicks, padTop, xHeight) {
  const tickGrid = { drawOnChartArea: false, drawTicks: true, tickLength: 6, color: '#222', lineWidth: 1.6 };
  return new Chart(document.getElementById(canvasId), {
    type: 'scatter',
    data: { datasets },
    options: {
      responsive: false,
      animation: false,
      events: [],
      layout: { padding: { top: padTop, right: 82, bottom: 0, left: 0 } },
      plugins: { legend: { display: false }, tooltip: { enabled: false } },
      scales: {
        x: {
          type: 'linear',
          min: 0,
          max: 10,
          afterBuildTicks: s => { s.ticks = X_TICKS.map(v => ({ value: v })); },
          afterFit: s => { s.height = xHeight; },
          grid: tickGrid,
          border: { display: false },
          ticks: { color: '#000', padding: 4, font: { family: FONT, size: 22 } }
        },
        y: {
          min: yRange[0],
          max: yRange[1],
          afterBuildTicks: s => { s.ticks = yTicks.map(v => ({ value: v })); },
          afterFit: s => { s.width = 104; },
          grid: tickGrid,
          border: { display: false },
          ticks: {
            color: '#000',
            padding: 4,
            font: { family: FONT, size: 22 },
            callback: v => String(v).replace('-', '\u2212')
          }
        }
      }
    },
    plugins: [frame]
  });
}

makeChart('topChart',
  buildDatasets(SE_NAMES,
    [SE0, SE1, SE2, SE3, SE4, SE5],
    [SE0_MID, SE1_MID, SE2_MID, SE3_MID, SE4_MID, SE5_MID],
    [SE0_UP, SE1_UP, SE2_UP, SE3_UP, SE4_UP, SE5_UP]),
  Y_RANGE_TOP, Y_TICKS_TOP, 12, 33);

makeChart('bottomChart',
  buildDatasets(CD_NAMES,
    [CD0, CD1, CD2, CD3, CD4, CD5],
    [CD0_MID, CD1_MID, CD2_MID, CD3_MID, CD4_MID, CD5_MID],
    [CD0_UP, CD1_UP, CD2_UP, CD3_UP, CD4_UP, CD5_UP]),
  Y_RANGE_BOTTOM, Y_TICKS_BOTTOM, 17, 67);

// colored text labels on the right
function addLabels(names, firstY) {
  names.forEach((name, i) => {
    const d = document.createElement('div');
    d.className = 'legend';
    d.textContent = name;
    d.style.color = COLORS[i];
    d.style.top = (firstY + i * 33) + 'px';
    document.body.appendChild(d);
  });
}
addLabels(SE_NAMES, 72);
addLabels(CD_NAMES, 385);
</script>
</body>
</html>
